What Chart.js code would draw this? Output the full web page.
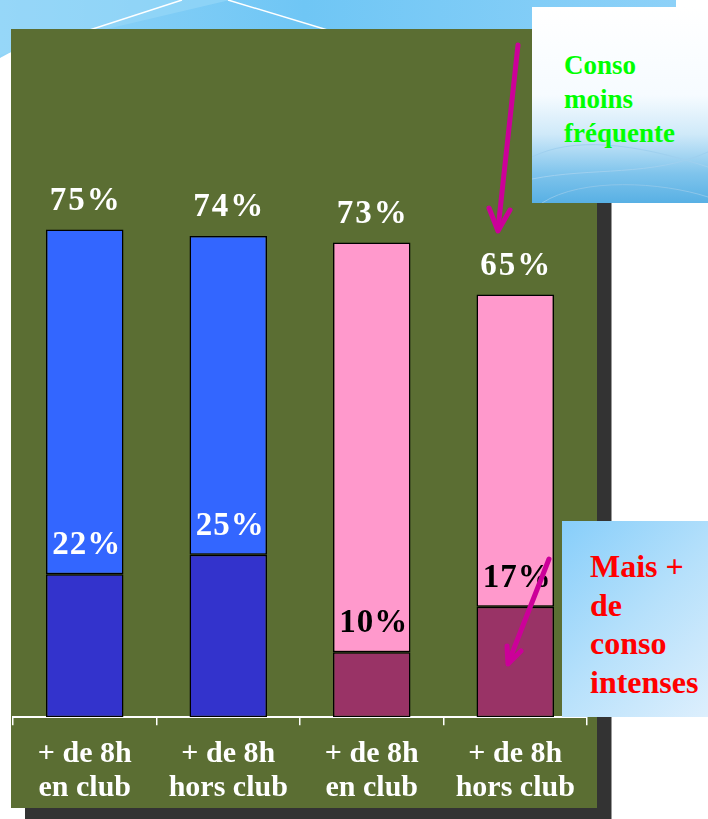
<!DOCTYPE html>
<html>
<head>
<meta charset="utf-8">
<script src="https://cdn.jsdelivr.net/npm/chart.js@4"></script>
<style>
  body { margin: 0; background: #fff; }
  #page { position: relative; width: 708px; height: 819px; overflow: hidden; background: #fff; }
  .abs { position: absolute; }
  #shadow { left: 25px; top: 45px; width: 586px; height: 780px; background: #333; border-right: 1px solid #999; }
  #panel { left: 11px; top: 29px; width: 586px; height: 779px; background: #5b6e33; }
  #chart { left: 0; top: 0; }
  .note { font-family: "Liberation Serif", serif; font-weight: bold; }
  #box1 { left: 532px; top: 7px; width: 176px; height: 196px;
    background: linear-gradient(180deg, #ffffff 0%, #f6fbff 45%, #cfe9f9 65%, #7fc4ec 85%, #58b0e4 100%);
    color: #00ff00; font-size: 27px; line-height: 34px; }
  #box1 div { position: absolute; left: 32px; top: 41px; }
  #box2 { left: 562px; top: 521px; width: 146px; height: 196px;
    background: linear-gradient(135deg, #87cefa 0%, #b5e0fb 50%, #ddeffd 100%);
    color: #ff0000; font-size: 32px; line-height: 38.5px; }
  #box2 div { position: absolute; left: 28px; top: 26px; }
</style>
</head>
<body>
<div id="page">
  <svg class="abs" style="left:0;top:0" width="708" height="819">
    <defs>
      <linearGradient id="sky" x1="0" y1="0" x2="1" y2="0">
        <stop offset="0" stop-color="#92d4f7"/>
        <stop offset="0.45" stop-color="#6fc6f5"/>
        <stop offset="1" stop-color="#8dd1f8"/>
      </linearGradient>
    </defs>
    <polygon points="0,0 676,0 676,40 11,40 11,52 0,58" fill="url(#sky)"/>
    <polygon points="0,0 230,0 60,40 0,55" fill="#9ad8f8" opacity="0.6"/>
    <line x1="0" y1="59" x2="182" y2="0" stroke="#fff" stroke-width="1.5"/>
    <line x1="228" y1="0" x2="354" y2="38" stroke="#fff" stroke-width="1.5"/>
  </svg>
  <div id="shadow" class="abs"></div>
  <div id="panel" class="abs"></div>
  <canvas id="chart" class="abs" width="708" height="819"></canvas>
  <div id="box1" class="abs note">
    <svg class="abs" style="left:0;top:0" width="176" height="196">
      <path d="M0,150 C40,130 100,135 176,160" stroke="#9fd0ef" stroke-width="1" fill="none"/>
      <path d="M0,172 C60,160 120,170 176,145" stroke="#9fd0ef" stroke-width="1" fill="none"/>
      <path d="M10,196 C50,170 130,175 176,190" stroke="#8cc6ea" stroke-width="1" fill="none"/>
    </svg>
    <div>Conso<br>moins<br>fréquente</div>
  </div>
  <div id="box2" class="abs note"><div>Mais +<br>de<br>conso<br>intenses</div></div>
  <svg class="abs" style="left:0;top:0" width="708" height="819">
    <g stroke="#cc0099" stroke-width="5" stroke-linecap="round" stroke-linejoin="round" fill="none">
      <line x1="518" y1="45" x2="498" y2="229"/>
      <polyline points="489,208 498,231 510,210"/>
      <line x1="549" y1="559" x2="509" y2="661"/>
      <polyline points="507,646 508,664 521,651"/>
    </g>
  </svg>
</div>

<script>
// categories and values
const categories = [['+ de 8h', 'en club'], ['+ de 8h', 'hors club'], ['+ de 8h', 'en club'], ['+ de 8h', 'hors club']];
const totalPct = [75, 74, 73, 65];     // all consumers (top label)
const intensePct = [22, 25, 10, 17];   // intense consumption (inner label)
const restPct = totalPct.map((t, i) => t - intensePct[i]);

const intenseColors = ['#3333cc', '#3333cc', '#993366', '#993366'];
const restColors = ['#3366ff', '#3366ff', '#ff99cc', '#ff99cc'];
const innerLabelColors = ['#ffffff', '#ffffff', '#000000', '#000000'];

const serif = '"Liberation Serif", "Times New Roman", serif';

// draws the % labels above each segment
const pctLabels = {
    id: 'pctLabels',
    afterDatasetsDraw(chart) {
        const ctx = chart.ctx;
        const low = chart.getDatasetMeta(0).data;
        const high = chart.getDatasetMeta(1).data;
        ctx.save();
        ctx.textAlign = 'center';
        ctx.textBaseline = 'alphabetic';
        ctx.font = 'bold 33px ' + serif;
        for (let i = 0; i < totalPct.length; i++) {
            ctx.letterSpacing = '2px';
            ctx.fillStyle = '#ffffff';
            ctx.fillText(totalPct[i] + '%', high[i].x + 1, high[i].y - 20);
            ctx.letterSpacing = '1px';
            ctx.fillStyle = innerLabelColors[i];
            ctx.fillText(intensePct[i] + '%', low[i].x + 2, low[i].y - 20);
        }
        ctx.restore();
    }
};

const ctx = document.getElementById('chart').getContext('2d');
const chart = new Chart(ctx, {
    type: 'bar',
    data: {
        labels: categories,
        datasets: [{
            label: 'intense',
            data: intensePct,
            backgroundColor: intenseColors,
            borderColor: '#000',
            borderWidth: 1.5,
            borderSkipped: false
        }, {
            label: 'total',
            data: restPct,
            backgroundColor: restColors,
            borderColor: '#000',
            borderWidth: 1.5,
            borderSkipped: false
        }]
    },
    options: {
        responsive: false,
        animation: false,
        layout: { padding: { left: 13, right: 121, top: 67, bottom: 2 } },
        plugins: { legend: { display: false }, tooltip: { enabled: false } },
        datasets: { bar: { categoryPercentage: 1, barPercentage: 0.54 } },
        scales: {
            x: {
                stacked: true,
                grid: { display: true, drawOnChartArea: false, drawTicks: true, tickLength: 8, color: '#ffffff', lineWidth: 1.5 },
                border: { display: true, color: '#ffffff', width: 2 },
                ticks: {
                    color: '#ffffff',
                    padding: 12,
                    maxRotation: 0,
                    font: { family: serif, weight: 'bold', size: 30, lineHeight: 1.13 }
                }
            },
            y: {
                stacked: true,
                display: false,
                min: 0,
                max: 100
            }
        }
    },
    plugins: [pctLabels]
});
</script>
</body>
</html>
